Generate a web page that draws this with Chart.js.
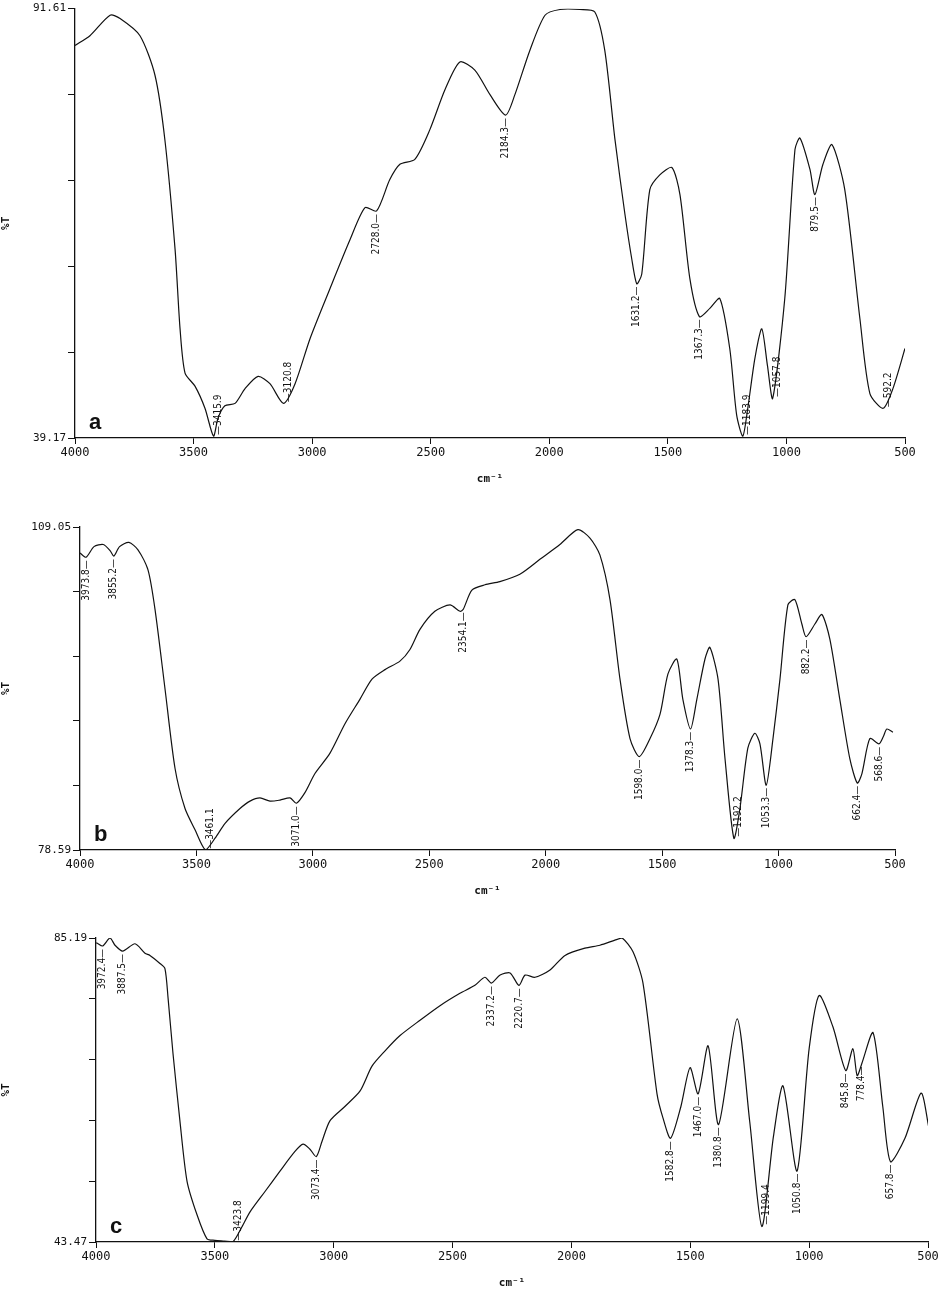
<!DOCTYPE html>
<html>
<head>
<meta charset="utf-8">
<script src="https://cdn.jsdelivr.net/npm/chart.js@4.4.0/dist/chart.umd.min.js"></script>
<style>
  body { margin: 0; background: #fff; width: 941px; height: 1302px; position: relative; overflow: hidden; }
  .panel { position: absolute; left: 0; width: 941px; }
</style>
</head>
<body>
<div class="panel" style="top:0;height:490px"><canvas id="chart-a"></canvas></div>
<div class="panel" style="top:515px;height:387px"><canvas id="chart-b"></canvas></div>
<div class="panel" style="top:926px;height:368px"><canvas id="chart-c"></canvas></div>
<script>
// 波数刻度
const xTicks = [4000, 3500, 3000, 2500, 2000, 1500, 1000, 500];

// 光谱 a
const waveA = [4000, 3937, 3852, 3810, 3726, 3663, 3621, 3578, 3557, 3536, 3494, 3452, 3416, 3397, 3368, 3325, 3283, 3228, 3178, 3121, 3072, 3009, 2925, 2840, 2777, 2728, 2673, 2630, 2567, 2504, 2440, 2377, 2314, 2250, 2184, 2145, 2082, 2018, 1955, 1871, 1808, 1766, 1723, 1681, 1652, 1631, 1610, 1576, 1534, 1483, 1449, 1407, 1367, 1323, 1281, 1239, 1210, 1184, 1163, 1133, 1104, 1080, 1058, 1007, 964, 943, 901, 880, 846, 808, 754, 690, 648, 592, 551, 500];
const valA = [87.1, 88.3, 90.8, 90.4, 88.3, 83.5, 75.6, 62.2, 52.5, 47.1, 45.5, 42.8, 39.4, 41.6, 43.1, 43.4, 45.2, 46.7, 45.8, 43.4, 45.8, 51.3, 57.4, 63.4, 67.3, 66.9, 70.7, 72.6, 73.2, 76.8, 81.7, 85.1, 84.1, 81.1, 78.6, 81.1, 86.5, 90.8, 91.5, 91.5, 91.2, 86.5, 75.6, 66.5, 61.0, 58.0, 59.2, 69.5, 71.3, 72.2, 68.9, 58.6, 54.0, 55.0, 56.2, 50.1, 42.0, 39.4, 42.8, 48.9, 52.5, 48.0, 44.0, 56.2, 74.4, 75.8, 72.0, 68.9, 72.6, 75.0, 69.5, 53.7, 44.6, 42.8, 45.2, 50.1];
const peaksA = [3415.9, 3120.8, 2728.0, 2184.3, 1631.2, 1367.3, 1183.9, 1057.8, 879.5, 592.2];

// 光谱 b
const waveB = [4000, 3974, 3940, 3900, 3870, 3855, 3830, 3790, 3751, 3708, 3678, 3635, 3592, 3549, 3506, 3461, 3420, 3377, 3313, 3270, 3227, 3184, 3141, 3098, 3071, 3034, 2991, 2927, 2862, 2798, 2746, 2690, 2626, 2583, 2540, 2476, 2411, 2368, 2354, 2317, 2261, 2197, 2111, 2025, 1939, 1862, 1810, 1767, 1724, 1681, 1638, 1598, 1552, 1509, 1475, 1437, 1411, 1378, 1351, 1316, 1295, 1260, 1230, 1192, 1166, 1132, 1102, 1080, 1053, 1024, 994, 960, 930, 900, 882, 844, 814, 780, 737, 694, 662, 642, 608, 569, 550, 535, 509];
const valB = [106.6, 106.2, 107.2, 107.4, 106.8, 106.3, 107.2, 107.6, 106.9, 105.0, 101.3, 93.8, 86.3, 82.5, 80.5, 78.6, 79.7, 81.1, 82.5, 83.2, 83.5, 83.2, 83.3, 83.5, 83.0, 84.0, 85.8, 87.7, 90.5, 92.8, 94.7, 95.6, 96.4, 97.5, 99.4, 101.1, 101.7, 101.1, 101.3, 103.1, 103.6, 103.9, 104.6, 106.0, 107.4, 108.8, 108.0, 106.4, 102.2, 94.7, 89.1, 87.4, 89.1, 91.4, 95.2, 96.6, 92.8, 90.0, 92.8, 96.6, 97.7, 94.7, 87.2, 79.7, 82.5, 88.2, 89.6, 88.6, 84.7, 89.1, 94.7, 101.7, 102.2, 99.9, 98.7, 99.9, 100.8, 98.5, 92.8, 87.2, 84.9, 85.8, 89.1, 88.6, 89.3, 90.0, 89.7];
const peaksB = [3973.8, 3855.2, 3461.1, 3071.0, 2354.1, 1598.0, 1378.3, 1192.2, 1053.3, 882.2, 662.4, 568.6];

// 光谱 c
const waveC = [4000, 3996, 3972, 3941, 3920, 3888, 3836, 3794, 3773, 3731, 3710, 3697, 3676, 3647, 3617, 3575, 3533, 3500, 3460, 3424, 3390, 3352, 3289, 3226, 3163, 3129, 3100, 3073, 3049, 3016, 2952, 2889, 2839, 2784, 2721, 2637, 2553, 2469, 2406, 2364, 2337, 2300, 2258, 2221, 2195, 2153, 2090, 2027, 1943, 1880, 1817, 1787, 1741, 1699, 1640, 1615, 1583, 1540, 1501, 1467, 1425, 1381, 1303, 1250, 1199, 1150, 1110, 1051, 1000, 958, 900, 846, 816, 798, 778, 731, 690, 658, 597, 529, 496];
const valC = [84.5, 84.5, 84.1, 85.2, 84.2, 83.4, 84.4, 83.1, 82.8, 81.7, 81.0, 77.0, 69.3, 60.1, 51.8, 47.2, 43.9, 43.7, 43.6, 43.5, 45.3, 47.6, 50.4, 53.2, 55.9, 56.9, 56.2, 55.2, 57.3, 60.1, 62.1, 64.2, 67.6, 69.7, 71.8, 73.9, 75.9, 77.6, 78.7, 79.8, 79.0, 80.1, 80.4, 78.7, 80.1, 79.8, 80.8, 82.8, 83.8, 84.2, 84.9, 85.2, 83.3, 79.0, 63.8, 60.5, 57.7, 62.0, 67.4, 63.8, 70.4, 59.6, 74.1, 60.0, 45.6, 58.0, 64.9, 53.2, 70.0, 77.3, 73.0, 67.0, 70.0, 66.3, 68.0, 72.2, 62.0, 54.5, 57.7, 63.9, 59.1];
const peaksC = [3972.4, 3887.5, 3423.8, 3073.4, 2337.2, 2220.7, 1582.8, 1467.0, 1380.8, 1199.4, 1050.8, 845.8, 778.4, 657.8];

const MONO = '"DejaVu Sans Mono", "Liberation Mono", monospace';

// 在曲线上插值
function valueAt(waves, vals, w) {
    for (let i = 0; i < waves.length - 1; i++) {
        if (w <= waves[i] && w >= waves[i + 1]) {
            const t = (waves[i] - w) / (waves[i] - waves[i + 1]);
            return vals[i] + t * (vals[i + 1] - vals[i]);
        }
    }
    return vals[vals.length - 1];
}

// 峰标注与面板字母
const peakPlugin = {
    id: 'peaks',
    afterDatasetsDraw(chart, args, opts) {
        const { ctx, scales: { x, y }, chartArea } = chart;
        ctx.save();
        ctx.fillStyle = '#111';
        ctx.font = '10px "Liberation Sans Narrow", "DejaVu Sans Condensed", sans-serif';
        opts.peaks.forEach(p => {
            const px = x.getPixelForValue(p);
            const py = y.getPixelForValue(valueAt(opts.waves, opts.vals, p));
            const text = p.toFixed(1);
            const w = ctx.measureText(text + '\u2014').width;
            ctx.save();
            ctx.textBaseline = 'middle';
            if (py + 3 + w > chartArea.bottom) {
                // 靠近底边：标注放在峰右侧向上
                ctx.translate(px + 5, py - 1);
                ctx.rotate(-Math.PI / 2);
                ctx.textAlign = 'left';
                ctx.fillText('\u2014' + text, 0, 0);
            } else {
                ctx.translate(px, py + 3);
                ctx.rotate(-Math.PI / 2);
                ctx.textAlign = 'right';
                ctx.fillText(text + '\u2014', 0, 0);
            }
            ctx.restore();
        });
        ctx.font = 'bold 22px "Liberation Sans", Arial, sans-serif';
        ctx.textAlign = 'left';
        ctx.textBaseline = 'bottom';
        ctx.fillText(opts.letter, chartArea.left + 14, chartArea.bottom - 4);
        ctx.restore();
    }
};

function makeChart(id, waves, vals, peaks, yMin, yMax, yWidth, padRight, padTop, letter) {
    const pts = waves.map((w, i) => ({ x: w, y: vals[i] }));
    return new Chart(document.getElementById(id), {
        type: 'line',
        data: { datasets: [{ data: pts, borderColor: '#111', borderWidth: 1.2, pointRadius: 0, tension: 0.25, fill: false }] },
        options: {
            responsive: true,
            maintainAspectRatio: false,
            animation: false,
            layout: { padding: { left: 0, right: padRight, top: padTop, bottom: 0 } },
            plugins: {
                legend: { display: false },
                tooltip: { enabled: false },
                peaks: { peaks: peaks, waves: waves, vals: vals, letter: letter }
            },
            scales: {
                x: {
                    type: 'linear', reverse: true, min: 500, max: 4000,
                    afterBuildTicks: s => { s.ticks = xTicks.map(v => ({ value: v })); },
                    afterFit: s => { s.height = 52; },
                    grid: { drawOnChartArea: false, tickLength: 6, color: '#111', lineWidth: 1 },
                    border: { color: '#111', width: 1.3 },
                    ticks: { color: '#111', font: { family: MONO, size: 12 }, maxRotation: 0, padding: 2, callback: v => String(v) },
                    title: { display: true, text: 'cm\u207B\u00B9', color: '#111', font: { family: MONO, size: 11, weight: 'bold' }, padding: { top: 4 } }
                },
                y: {
                    min: yMin, max: yMax,
                    afterBuildTicks: s => {
                        const step = (yMax - yMin) / 5;
                        s.ticks = [0, 1, 2, 3, 4, 5].map(i => ({ value: yMin + step * i }));
                    },
                    afterFit: s => { s.width = yWidth; },
                    grid: { drawOnChartArea: false, tickLength: 7, color: '#111' },
                    border: { color: '#111', width: 1.3 },
                    ticks: {
                        color: '#111', font: { family: MONO, size: 11 }, padding: 2,
                        callback: (v, i) => (i === 0 ? yMin.toFixed(2) : i === 5 ? yMax.toFixed(2) : '')
                    },
                    title: { display: true, text: '%T', color: '#111', font: { family: MONO, size: 11, weight: 'bold' }, padding: 0 }
                }
            }
        },
        plugins: [peakPlugin]
    });
}

makeChart('chart-a', waveA, valA, peaksA, 39.17, 91.61, 75, 36, 8, 'a');
makeChart('chart-b', waveB, valB, peaksB, 78.59, 109.05, 80, 46, 12, 'b');
makeChart('chart-c', waveC, valC, peaksC, 43.47, 85.19, 96, 13, 12, 'c');
</script>
</body>
</html>
